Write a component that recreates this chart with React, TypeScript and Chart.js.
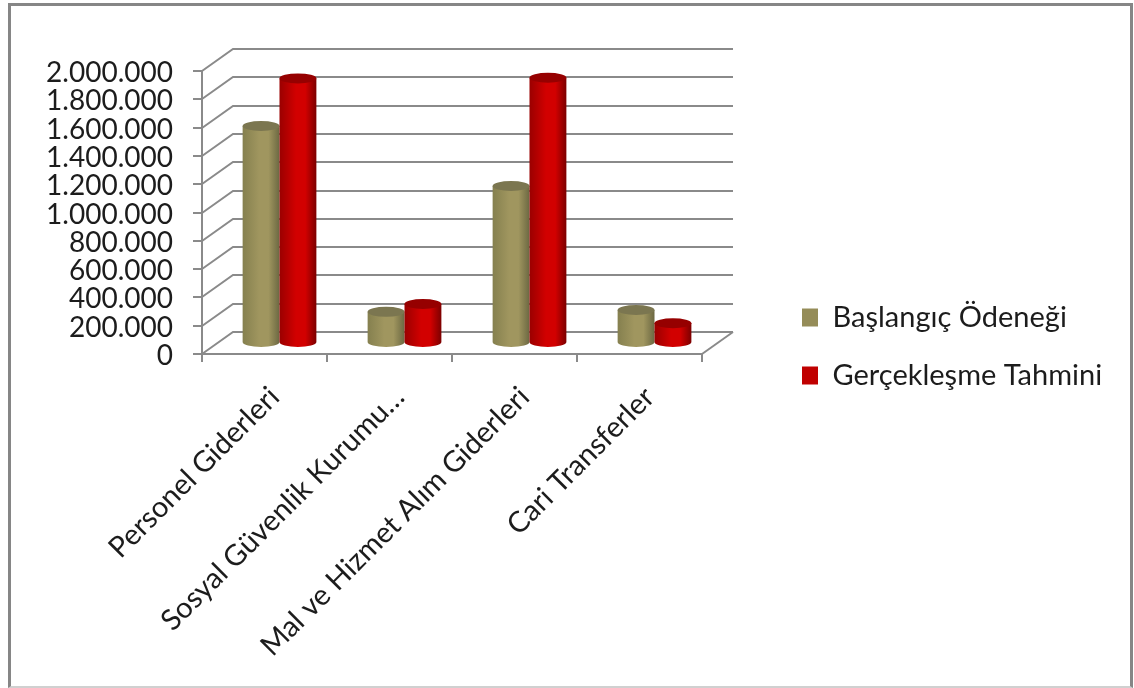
import React, { useEffect, useRef } from "react";
import { Chart, registerables } from "chart.js";

Chart.register(...registerables);

const categories = ["Personel Giderleri", "Sosyal Güvenlik Kurumu…", "Mal ve Hizmet Alım Giderleri", "Cari Transferler"];
const baslangic = [1534000, 220000, 1110000, 233000];
const gerceklesme = [1870000, 275000, 1875000, 140000];
const seriesNames = ["Başlangıç Ödeneği", "Gerçekleşme Tahmini"];

const FONT = "Lato, Carlito, Calibri, sans-serif";
const DX = 31;
const DY = 22;
const BAR_DX = 15;
const BAR_DY = 11;
const RY = 5;
const GRID = "#8a8a8a";

const palettes = [
  { edgeL: "#85804f", mid: "#a0965f", edgeR: "#6c6842", top: "#7b7650" },
  { edgeL: "#9a0000", mid: "#d20000", edgeR: "#7c0000", top: "#960000" },
];

const cylinders = {
  id: "cylinders",
  beforeDatasetsDraw(chart: any) {
    const { ctx, scales } = chart;
    const y = scales.y;
    const { left, right, bottom } = chart.chartArea;
    ctx.save();
    ctx.strokeStyle = GRID;
    ctx.lineWidth = 2;
    y.ticks.forEach((_: any, i: number) => {
      const py = Math.round(y.getPixelForTick(i));
      ctx.beginPath();
      ctx.moveTo(left, py);
      ctx.lineTo(left + DX, py - DY);
      ctx.lineTo(right + DX, py - DY);
      ctx.stroke();
    });
    ctx.beginPath();
    ctx.moveTo(right, bottom);
    ctx.lineTo(right + DX, bottom - DY);
    ctx.stroke();

    chart.data.datasets.forEach((_: any, d: number) => {
      const pal = palettes[d];
      chart.getDatasetMeta(d).data.forEach((el: any) => {
        const w = el.width;
        const x0 = el.x - w / 2 + BAR_DX;
        const x1 = x0 + w;
        const cx = x0 + w / 2;
        const top = el.y - BAR_DY;
        const base = el.base - BAR_DY;
        const g = ctx.createLinearGradient(x0, 0, x1, 0);
        g.addColorStop(0, pal.edgeL);
        g.addColorStop(0.45, pal.mid);
        g.addColorStop(0.7, pal.mid);
        g.addColorStop(1, pal.edgeR);
        ctx.fillStyle = g;
        ctx.beginPath();
        ctx.moveTo(x0, top);
        ctx.lineTo(x0, base);
        ctx.ellipse(cx, base, w / 2, RY, 0, Math.PI, 0, true);
        ctx.lineTo(x1, top);
        ctx.closePath();
        ctx.fill();
        ctx.fillStyle = pal.top;
        ctx.beginPath();
        ctx.ellipse(cx, top, w / 2, RY, 0, 0, Math.PI * 2);
        ctx.fill();
      });
    });
    ctx.restore();
  },
  beforeDatasetDraw() {
    return false;
  },
  afterLayout(chart: any) {
    const l = chart.legend;
    const pad = l.options.labels.padding;
    const h = l.height;
    l.left = 802 - pad;
    l.right = 1134;
    l.top = 303 - pad;
    l.bottom = l.top + h + 40;
  },
};

export default function App() {
  const ref = useRef<HTMLCanvasElement>(null);
  useEffect(() => {
    document.body.style.margin = "0";
    const chart = new Chart(ref.current!, {
      type: "bar",
      data: {
        labels: categories,
        datasets: [
          { label: seriesNames[0], data: baslangic, backgroundColor: "#958c58" },
          { label: seriesNames[1], data: gerceklesme, backgroundColor: "#c00000" },
        ],
      },
      plugins: [cylinders],
      options: {
        animation: false,
        responsive: false,
        devicePixelRatio: 1,
        layout: { padding: { top: 71, right: 198, bottom: 0, left: 0 } },
        datasets: { bar: { barPercentage: 1, categoryPercentage: 0.59 } },
        plugins: {
          tooltip: { enabled: false },
          legend: {
            position: "right",
            align: "start",
            labels: {
              boxWidth: 16,
              boxHeight: 18,
              padding: 29,
              color: "#1c1c1c",
              font: { family: FONT, size: 29 },
            },
          },
        },
        scales: {
          x: {
            afterFit: (s: any) => { s.height = 334; },
            grid: { display: true, drawOnChartArea: false, color: GRID, lineWidth: 2, tickLength: 8, offset: true },
            border: { display: true, color: GRID, width: 2 },
            ticks: {
              minRotation: 45,
              maxRotation: 45,
              autoSkip: false,
              labelOffset: 10,
              padding: 18,
              color: "#1c1c1c",
              font: { family: FONT, size: 29 },
            },
          },
          y: {
            min: 0,
            max: 2000000,
            afterFit: (s: any) => { s.width = 202; },
            grid: { display: true, drawOnChartArea: false, color: GRID, lineWidth: 2, tickLength: 9 },
            border: { display: true, color: GRID, width: 2 },
            ticks: {
              stepSize: 200000,
              autoSkip: false,
              padding: 20,
              labelOffset: 2,
              color: "#1c1c1c",
              font: { family: FONT, size: 28 },
              callback: (v: any) => Number(v).toString().replace(/\B(?=(\d{3})+(?!\d))/g, "."),
            },
          },
        },
      },
    } as any);
    return () => chart.destroy();
  }, []);
  return (
    <div style={{ position: "relative", width: 1134, height: 688, background: "#fff", overflow: "hidden" }}>
      <canvas ref={ref} width={1134} height={688} style={{ display: "block", filter: "blur(0.4px)" }} />
      <div style={{ position: "absolute", left: 8, top: 3, right: 1, bottom: 0, borderTop: "3px solid #868686", borderLeft: "3px solid #868686", borderRight: "3px solid #868686", borderBottom: "2px solid #d0d0d0", boxSizing: "border-box", pointerEvents: "none" }} />
    </div>
  );
}
